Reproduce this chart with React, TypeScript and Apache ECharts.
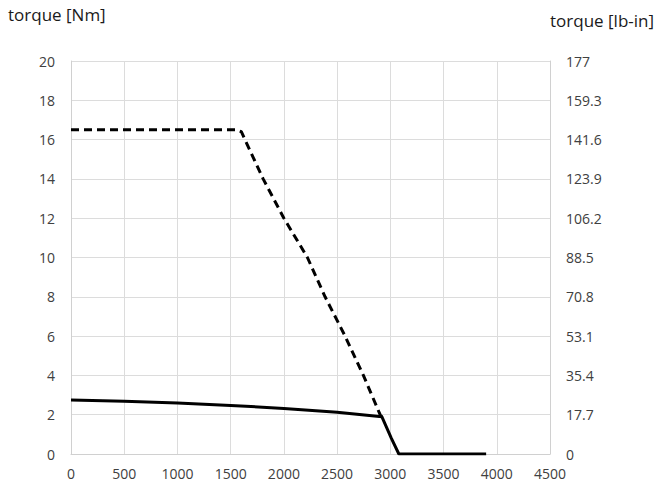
import React, { useEffect, useRef } from "react";
import * as echarts from "echarts";

const xTicks = [0, 500, 1000, 1500, 2000, 2500, 3000, 3500, 4000, 4500];
const leftTicks = [0, 2, 4, 6, 8, 10, 12, 14, 16, 18, 20];
const rightTicks = ["0", "17.7", "35.4", "53.1", "70.8", "88.5", "106.2", "123.9", "141.6", "159.3", "177"];

const peakSpeed = [0, 1550, 1600, 1805, 2000, 2221, 2387, 2575, 2747, 2904, 2920];
const peakTorque = [16.5, 16.5, 16.4, 14, 12, 10, 8, 6, 4, 2, 1.9];

const contSpeed = [0, 500, 1000, 1500, 2000, 2500, 2920, 3010, 3080, 3900];
const contTorque = [2.75, 2.68, 2.6, 2.47, 2.32, 2.12, 1.9, 0.8, 0, 0];

const leftTitle = "torque [Nm]";
const rightTitle = "torque [lb-in]";

export default function App() {
  const ref = useRef<HTMLDivElement>(null);
  useEffect(() => {
    if (!ref.current) return;
    const chart = echarts.init(ref.current, undefined, { renderer: "svg" });
    const font = "'Open Sans', 'Noto Sans', sans-serif";
    chart.setOption({
      animation: false,
      backgroundColor: "#ffffff",
      textStyle: { fontFamily: font },
      grid: { left: 71, right: 111, top: 61, bottom: 32 },
      graphic: [
        { type: "text", left: 8, top: 6, style: { text: leftTitle, fontSize: 17, fill: "#1a1a1a", fontFamily: font } },
        { type: "text", left: 550, top: 12, style: { text: rightTitle, fontSize: 17, fill: "#1a1a1a", fontFamily: font } },
      ],
      xAxis: {
        type: "value",
        min: xTicks[0],
        max: xTicks[xTicks.length - 1],
        interval: 500,
        axisLine: { show: true, lineStyle: { color: "#d0d0d0" } },
        axisTick: { show: false },
        axisLabel: { color: "#404040", fontSize: 14, margin: 12, fontFamily: font, formatter: (v: number) => String(v) },
        splitLine: { show: true, lineStyle: { color: "#dcdcdc", width: 1 } },
      },
      yAxis: [
        {
          type: "value",
          min: leftTicks[0],
          max: leftTicks[leftTicks.length - 1],
          interval: 2,
          axisLine: { show: true, lineStyle: { color: "#d0d0d0" } },
          axisTick: { show: false },
          axisLabel: { color: "#404040", fontSize: 14, margin: 16, fontFamily: font },
          splitLine: { show: true, lineStyle: { color: "#dcdcdc", width: 1 } },
        },
        {
          type: "value",
          min: leftTicks[0],
          max: leftTicks[leftTicks.length - 1],
          interval: 2,
          position: "right",
          axisLine: { show: true, lineStyle: { color: "#d0d0d0" } },
          axisTick: { show: false },
          axisLabel: {
            color: "#404040",
            fontSize: 14,
            margin: 16,
            fontFamily: font,
            formatter: (v: number) => rightTicks[Math.round(v / 2)],
          },
          splitLine: { show: false },
        },
      ],
      series: [
        {
          type: "line",
          data: peakSpeed.map((s, i) => [s, peakTorque[i]]),
          showSymbol: false,
          symbol: "none",
          lineStyle: { color: "#000", width: 3, type: [8, 5] },
          z: 3,
        },
        {
          type: "line",
          data: contSpeed.map((s, i) => [s, contTorque[i]]),
          showSymbol: false,
          symbol: "none",
          lineStyle: { color: "#000", width: 3 },
          z: 4,
        },
      ],
    });
    return () => chart.dispose();
  }, []);
  return <div ref={ref} style={{ width: 661, height: 486, position: "absolute", left: 0, top: 0 }} />;
}
